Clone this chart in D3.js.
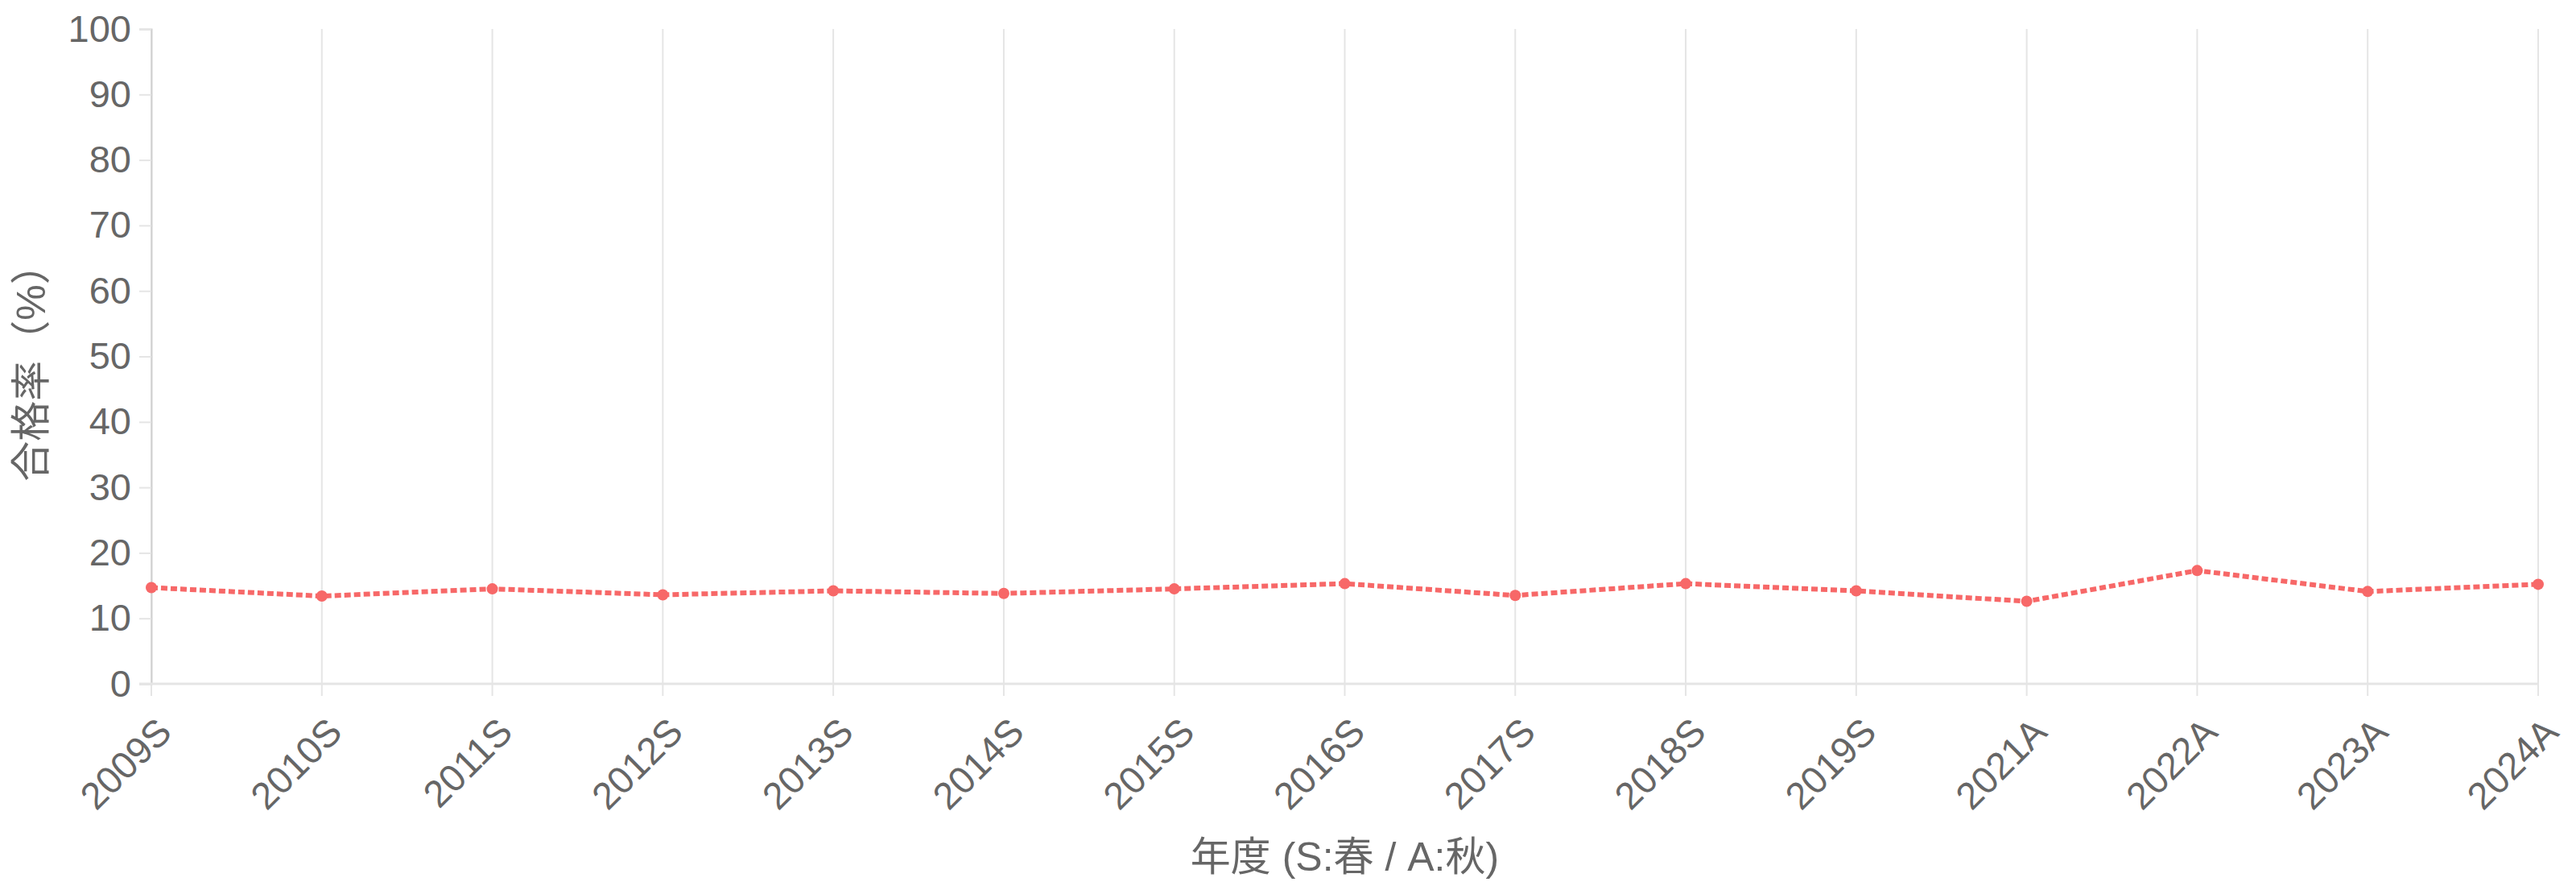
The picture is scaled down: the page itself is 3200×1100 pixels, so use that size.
<!DOCTYPE html>
<html>
<head>
<meta charset="utf-8">
<script src="https://cdn.jsdelivr.net/npm/d3@7"></script>
<style>
  html, body { margin: 0; padding: 0; background: #fff; }
  text { font-family: "Liberation Sans", Arial, "Noto Sans CJK JP", sans-serif; fill: #666; }
</style>
</head>
<body>
<div id="chart"></div>
<script>
const years = ['2009S', '2010S', '2011S', '2012S', '2013S', '2014S', '2015S', '2016S',
  '2017S', '2018S', '2019S', '2021A', '2022A', '2023A', '2024A']
const passRates = [14.7, 13.4, 14.5, 13.6, 14.2, 13.8, 14.5, 15.3, 13.5, 15.3, 14.2, 12.6, 17.3, 14.1, 15.2]
const yTicks = [0, 10, 20, 30, 40, 50, 60, 70, 80, 90, 100]
const xTitle = '年度 (S:春 / A:秋)'
const yTitle = '合格率（%）'

const W = 3200
const H = 1100
const margin = { top: 36, right: 47, bottom: 251, left: 188 }
const width = W - margin.left - margin.right
const height = H - margin.top - margin.bottom
const lineColor = '#f76868'

const svg = d3.select('#chart')
  .append('svg')
  .attr('width', W)
  .attr('height', H)

const g = svg.append('g')
  .attr('transform', 'translate(' + margin.left + ',' + margin.top + ')')

const x = d3.scalePoint().domain(years).range([0, width])
const y = d3.scaleLinear().domain([0, 100]).range([height, 0])

// vertical grid lines, running down past the axis as tick marks
g.append('g')
  .selectAll('line')
  .data(years)
  .enter()
  .append('line')
  .attr('x1', d => x(d))
  .attr('x2', d => x(d))
  .attr('y1', 0)
  .attr('y2', height + 15)
  .attr('stroke', '#e5e5e5')
  .attr('stroke-width', 2)

// y axis
const yAxis = d3.axisLeft(y).tickValues(yTicks).tickSize(15).tickPadding(10)
const yG = g.append('g').call(yAxis)
yG.select('.domain').attr('stroke', '#d0d0d0').attr('stroke-width', 2)
yG.selectAll('.tick line').attr('stroke', '#e5e5e5').attr('stroke-width', 2)
yG.selectAll('.tick text')
  .attr('font-size', 47)
  .attr('fill', '#666')
  .attr('font-family', '"Liberation Sans", Arial, sans-serif')

// x axis baseline
g.append('line')
  .attr('x1', -15)
  .attr('x2', width)
  .attr('y1', height)
  .attr('y2', height)
  .attr('stroke', '#e5e5e5')
  .attr('stroke-width', 3)

// x tick labels, rotated
g.append('g')
  .selectAll('text')
  .data(years)
  .enter()
  .append('text')
  .attr('transform', d => 'translate(' + (x(d) + 16) + ',' + (height + 51) + ') rotate(-45)')
  .attr('text-anchor', 'end')
  .attr('dy', '0.35em')
  .attr('font-size', 47)
  .text(d => d)

// the line
const line = d3.line()
  .x((d, i) => x(years[i]))
  .y(d => y(d))

g.append('path')
  .datum(passRates)
  .attr('d', line)
  .attr('fill', 'none')
  .attr('stroke', lineColor)
  .attr('stroke-width', 6)
  .attr('stroke-dasharray', '8,4')

g.append('g')
  .selectAll('circle')
  .data(passRates)
  .enter()
  .append('circle')
  .attr('cx', (d, i) => x(years[i]))
  .attr('cy', d => y(d))
  .attr('r', 7)
  .attr('fill', lineColor)

// axis titles
svg.append('text')
  .attr('x', margin.left + width / 2)
  .attr('y', 1063)
  .attr('dy', '0.35em')
  .attr('text-anchor', 'middle')
  .attr('font-size', 50)
  .text(xTitle)

svg.append('text')
  .attr('transform', 'translate(38,' + (margin.top + height / 2 + 8) + ') rotate(-90)')
  .attr('dy', '0.35em')
  .attr('text-anchor', 'middle')
  .attr('font-size', 50)
  .text(yTitle)
</script>
</body>
</html>
